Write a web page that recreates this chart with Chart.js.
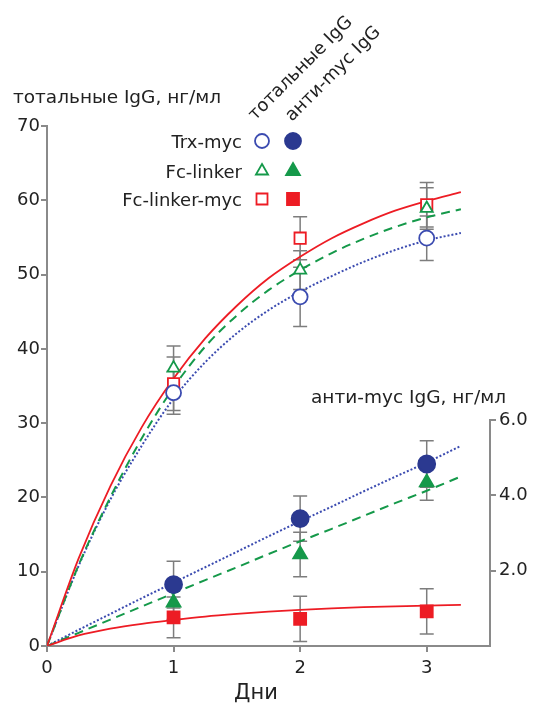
<!DOCTYPE html>
<html>
<head>
<meta charset="utf-8">
<script src="https://cdn.jsdelivr.net/npm/chart.js@4.4.1/dist/chart.umd.min.js"></script>
<style>
  html, body { margin: 0; padding: 0; background: #fff; }
  #wrap { width: 541px; height: 704px; }
</style>
</head>
<body>
<div id="wrap"><canvas id="chart" width="541" height="704"></canvas></div>
<script>
// measured points (days 1..3)
const days = [1, 2, 3];

// total IgG, ng/ml (left axis)
const totalTrx = [34.1, 47.0, 54.9];
const totalTrxErr = [2.9, 4.0, 3.0];
const totalFc = [37.4, 50.6, 58.9];
const totalFcErr = [3.0, 2.6, 2.8];
const totalFcMyc = [35.3, 54.9, 59.4];
const totalFcMycErr = [3.6, 2.9, 3.0];

// anti-myc IgG, ng/ml (right axis)
const antiTrx = [1.63, 3.38, 4.83];
const antiTrxErr = [0.62, 0.6, 0.62];
const antiFc = [1.15, 2.43, 4.34];
const antiFcErr = [0.45, 0.59, 0.47];
const antiFcMyc = [0.76, 0.72, 0.92];
const antiFcMycErr = [0.54, 0.6, 0.6];

// fitted curves
const fitX = [0, 0.25, 0.5, 0.75, 1, 1.25, 1.5, 1.75, 2, 2.25, 2.5, 2.75, 3, 3.27];
const fitTotalFcMyc = [0, 11.8, 21.5, 29.5, 36.0, 41.4, 45.8, 49.5, 52.4, 54.9, 56.9, 58.6, 59.9, 61.1];
const fitTotalFc = [0, 10.9, 20.0, 28.0, 34.8, 40.3, 44.5, 47.9, 50.6, 52.9, 54.8, 56.4, 57.7, 58.8];
const fitTotalTrx = [0, 10.8, 19.7, 27.0, 33.3, 38.2, 42.1, 45.2, 47.7, 49.8, 51.7, 53.3, 54.6, 55.6];
const fitAntiTrx = [0, 0.43, 0.85, 1.27, 1.68, 2.09, 2.5, 2.91, 3.31, 3.7, 4.1, 4.49, 4.87, 5.31];
const fitAntiFc = [0, 0.35, 0.7, 1.05, 1.4, 1.75, 2.09, 2.44, 2.78, 3.11, 3.45, 3.79, 4.12, 4.5];
const fitAntiFcMyc = [0, 0.28, 0.46, 0.59, 0.69, 0.78, 0.85, 0.91, 0.96, 1.0, 1.03, 1.05, 1.07, 1.09];

const leftTicks = [0, 10, 20, 30, 40, 50, 60, 70];
const rightTicks = [2, 4, 6];
const xTicks = [0, 1, 2, 3];

const RED = '#ed1c24';
const GREEN = '#15994a';
const BLUE = '#2b3990';
const BLUE_LINE = '#3b4bb0';
const AXIS = '#8a8a8a';
const FONT = '"DejaVu Sans", sans-serif';

const pts = (xs, ys) => xs.map((x, i) => ({ x: x, y: ys[i] }));

const errorSets = [
  { axis: 'y', values: totalTrx, errors: totalTrxErr },
  { axis: 'y', values: totalFc, errors: totalFcErr },
  { axis: 'y', values: totalFcMyc, errors: totalFcMycErr },
  { axis: 'y2', values: antiTrx, errors: antiTrxErr },
  { axis: 'y2', values: antiFc, errors: antiFcErr },
  { axis: 'y2', values: antiFcMyc, errors: antiFcMycErr }
];

function marker(ctx, style, x, y, r, color, filled) {
  ctx.save();
  ctx.lineWidth = 1.8;
  ctx.strokeStyle = color;
  ctx.fillStyle = filled ? color : '#fff';
  ctx.beginPath();
  if (style === 'circle') {
    ctx.arc(x, y, r, 0, Math.PI * 2);
  } else if (style === 'triangle') {
    ctx.moveTo(x, y - r);
    ctx.lineTo(x + r * 0.866, y + r * 0.5);
    ctx.lineTo(x - r * 0.866, y + r * 0.5);
    ctx.closePath();
  } else {
    ctx.rect(x - r, y - r, r * 2, r * 2);
  }
  ctx.fill();
  ctx.stroke();
  ctx.restore();
}

const overlay = {
  id: 'overlay',
  beforeDatasetsDraw(chart) {
    const { ctx, scales } = chart;
    const x = scales.x;
    ctx.save();
    ctx.strokeStyle = '#7d7d7d';
    ctx.lineWidth = 1.5;
    errorSets.forEach(s => {
      const sc = scales[s.axis];
      days.forEach((d, i) => {
        const px = x.getPixelForValue(d);
        const top = sc.getPixelForValue(s.values[i] + s.errors[i]);
        const bot = sc.getPixelForValue(s.values[i] - s.errors[i]);
        ctx.beginPath();
        ctx.moveTo(px, top); ctx.lineTo(px, bot);
        ctx.moveTo(px - 7, top); ctx.lineTo(px + 7, top);
        ctx.moveTo(px - 7, bot); ctx.lineTo(px + 7, bot);
        ctx.stroke();
      });
    });
    ctx.restore();
  },
  afterDraw(chart) {
    const { ctx, scales, chartArea } = chart;
    const y2 = scales.y2;
    ctx.save();
    // right axis only goes up to 6.0
    ctx.strokeStyle = AXIS;
    ctx.lineWidth = 2;
    ctx.beginPath();
    ctx.moveTo(chartArea.right, y2.getPixelForValue(0) + 1);
    ctx.lineTo(chartArea.right, y2.getPixelForValue(6) - 1);
    ctx.stroke();

    ctx.fillStyle = '#222';
    ctx.textBaseline = 'alphabetic';
    ctx.textAlign = 'left';
    ctx.font = '18.5px ' + FONT;
    ctx.fillText('тотальные IgG, нг/мл', 13, 103);
    ctx.fillText('анти-myc IgG, нг/мл', 311, 403);

    ctx.font = '21px ' + FONT;
    ctx.textAlign = 'center';
    ctx.fillText('Дни', 256, 699);

    // column headers
    ctx.font = '18px ' + FONT;
    ctx.textAlign = 'left';
    [['тотальные IgG', 255, 121], ['анти-myc IgG', 292, 122]].forEach(h => {
      ctx.save();
      ctx.translate(h[1], h[2]);
      ctx.rotate(-45 * Math.PI / 180);
      ctx.fillText(h[0], 0, 0);
      ctx.restore();
    });

    // legend
    const rows = [
      ['Trx-myc', 'circle', BLUE_LINE, BLUE, 141, 7, 8],
      ['Fc-linker', 'triangle', GREEN, GREEN, 171, 7, 8],
      ['Fc-linker-myc', 'square', RED, RED, 199, 5.5, 6]
    ];
    ctx.font = '18px ' + FONT;
    ctx.textAlign = 'right';
    rows.forEach(r => {
      ctx.fillStyle = '#222';
      ctx.fillText(r[0], 242, r[4] + 7);
      marker(ctx, r[1], 262, r[4], r[5], r[2], false);
      marker(ctx, r[1], 293, r[4], r[6], r[3], true);
    });
    ctx.restore();
  }
};

const lineDs = (data, color, dash, axis, width) => ({
  type: 'line',
  data: data,
  yAxisID: axis,
  borderColor: color,
  borderWidth: width,
  borderDash: dash,
  pointRadius: 0,
  fill: false,
  cubicInterpolationMode: 'monotone'
});

const markDs = (data, axis, style, color, filled, r) => ({
  type: 'scatter',
  data: data,
  yAxisID: axis,
  pointStyle: style,
  pointRadius: r,
  pointBorderWidth: 1.8,
  pointBorderColor: color,
  pointBackgroundColor: filled ? color : '#fff'
});

new Chart(document.getElementById('chart'), {
  data: {
    datasets: [
      markDs(pts(days, totalTrx), 'y', 'circle', BLUE_LINE, false, 7.5),
      markDs(pts(days, totalFc), 'y', 'triangle', GREEN, false, 7),
      markDs(pts(days, totalFcMyc), 'y', 'rect', RED, false, 8),
      markDs(pts(days, antiTrx), 'y2', 'circle', BLUE, true, 8.5),
      markDs(pts(days, antiFc), 'y2', 'triangle', GREEN, true, 8),
      markDs(pts(days, antiFcMyc), 'y2', 'rect', RED, true, 8.5),
      lineDs(pts(fitX, fitTotalFcMyc), RED, [], 'y', 1.8),
      lineDs(pts(fitX, fitTotalFc), GREEN, [9, 6], 'y', 2),
      lineDs(pts(fitX, fitTotalTrx), BLUE_LINE, [2, 2], 'y', 2),
      lineDs(pts(fitX, fitAntiFcMyc), RED, [], 'y2', 1.8),
      lineDs(pts(fitX, fitAntiFc), GREEN, [9, 6], 'y2', 2),
      lineDs(pts(fitX, fitAntiTrx), BLUE_LINE, [2, 2], 'y2', 2)
    ]
  },
  options: {
    responsive: false,
    animation: false,
    devicePixelRatio: 1,
    layout: { padding: { top: 126, left: 0, right: 0, bottom: 0 } },
    plugins: { legend: { display: false }, tooltip: { enabled: false } },
    scales: {
      x: {
        type: 'linear', min: 0, max: 3.5,
        afterBuildTicks: s => { s.ticks = xTicks.map(v => ({ value: v })); },
        afterFit: s => { s.height = 58; },
        grid: { drawOnChartArea: false, tickLength: 6, color: AXIS, lineWidth: 2 },
        border: { color: AXIS, width: 2 },
        ticks: { color: '#222', padding: 6, font: { family: FONT, size: 18 } }
      },
      y: {
        position: 'left', min: 0, max: 70,
        afterBuildTicks: s => { s.ticks = leftTicks.map(v => ({ value: v })); },
        afterFit: s => { s.width = 47; },
        grid: { drawOnChartArea: false, tickLength: 6, color: AXIS, lineWidth: 2 },
        border: { color: AXIS, width: 2 },
        ticks: { color: '#222', padding: 1, font: { family: FONT, size: 18 } }
      },
      y2: {
        position: 'right', min: 0, max: 13.8,
        afterBuildTicks: s => { s.ticks = rightTicks.map(v => ({ value: v })); },
        afterFit: s => { s.width = 51; },
        grid: { drawOnChartArea: false, tickLength: 6, color: AXIS, lineWidth: 2 },
        border: { display: false },
        ticks: { color: '#222', padding: 3, font: { family: FONT, size: 18 },
          callback: v => v.toFixed(1) }
      }
    }
  },
  plugins: [overlay]
});
</script>
</body>
</html>
